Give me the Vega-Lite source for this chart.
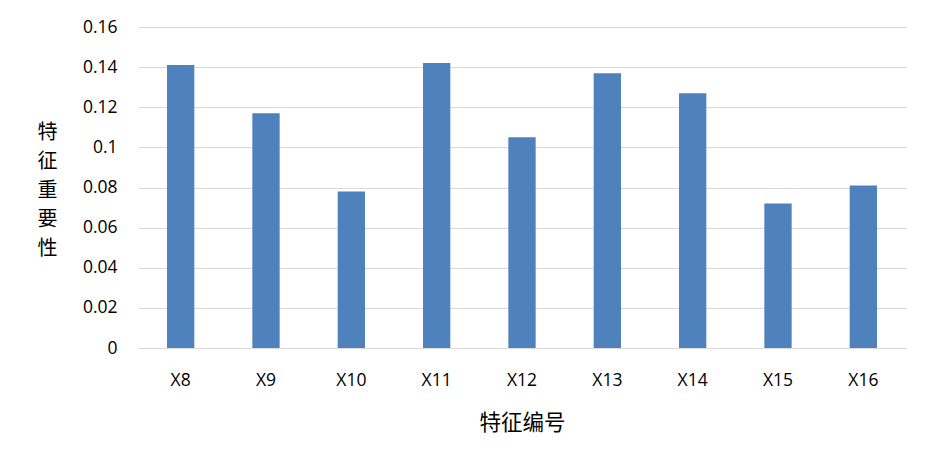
{
  "$schema": "https://vega.github.io/schema/vega-lite/v6.json",
  "width": 768,
  "height": 321,
  "autosize": {"type": "none"},
  "padding": {"left": 138, "top": 27, "right": 27, "bottom": 124},
  "background": "white",
  "data": {
    "values": [
      {"feature": "X8", "importance": 0.141},
      {"feature": "X9", "importance": 0.117},
      {"feature": "X10", "importance": 0.078},
      {"feature": "X11", "importance": 0.142},
      {"feature": "X12", "importance": 0.105},
      {"feature": "X13", "importance": 0.137},
      {"feature": "X14", "importance": 0.127},
      {"feature": "X15", "importance": 0.072},
      {"feature": "X16", "importance": 0.081}
    ]
  },
  "mark": {"type": "bar", "color": "#4F81BD"},
  "encoding": {
    "x": {
      "field": "feature",
      "type": "nominal",
      "sort": null,
      "scale": {"paddingInner": 0.68, "paddingOuter": 0.34},
      "axis": {
        "title": "特征编号",
        "labelAngle": 0,
        "labelFont": "Open Sans",
        "labelFontSize": 17.5,
        "labelColor": "#000000",
        "labelPadding": 23,
        "ticks": false,
        "domainColor": "#D9D9D9",
        "domainWidth": 1,
        "titleFont": "Noto Sans CJK SC",
        "titleFontSize": 21.5,
        "titleFontWeight": "normal",
        "titleColor": "#000000",
        "titlePadding": 24
      }
    },
    "y": {
      "field": "importance",
      "type": "quantitative",
      "scale": {"domain": [0, 0.16], "nice": false},
      "axis": {
        "values": [0, 0.02, 0.04, 0.06, 0.08, 0.1, 0.12, 0.14, 0.16],
        "labelExpr": "datum.value === 0 ? '0' : format(datum.value, '.2~f')",
        "title": ["特", "征", "重", "要", "性"],
        "titleAngle": 0,
        "titleAlign": "center",
        "titleBaseline": "middle",
        "titleX": -91,
        "titleY": 105,
        "titleLineHeight": 29,
        "titleFont": "Noto Sans CJK SC",
        "titleFontSize": 20,
        "titleFontWeight": "normal",
        "titleColor": "#000000",
        "labelFont": "Open Sans",
        "labelFontSize": 17.5,
        "labelColor": "#000000",
        "labelPadding": 21,
        "ticks": false,
        "domain": false,
        "grid": true,
        "gridColor": "#D9D9D9",
        "gridWidth": 1
      }
    }
  },
  "config": {"view": {"stroke": null}}
}
